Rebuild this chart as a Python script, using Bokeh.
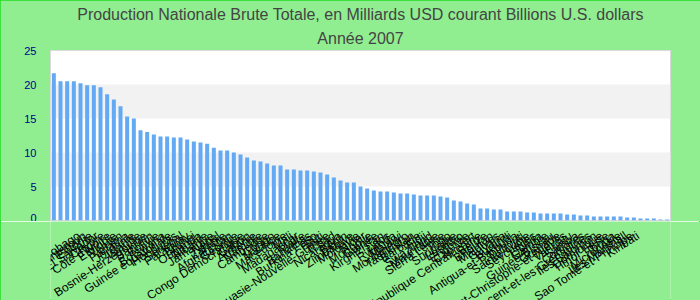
from bokeh.plotting import figure
from bokeh.layouts import column
from bokeh.models import Title, SingleIntervalTicker, FactorRange, Range1d
from bokeh.core.properties import value
from bokeh.embed import file_html
from bokeh.resources import INLINE

countries = [
    "Trinité-et-Tobago", "Cameroun", "Estonie", "El Salvador", "Chypre",
    "Côte d'Ivoire", "Éthiopie", "Yémen", "Panama", "Jordanie",
    "Islande", "Bosnie-Herzégovine", "Bahreïn", "Bolivie", "Botswana",
    "Guinée équatoriale", "Honduras", "Sénégal", "Paraguay", "Brunei",
    "Ouganda", "Albanie", "Jamaïque", "Népal", "Zambie",
    "Afghanistan", "Géorgie", "Congo Démocratique", "Gabon", "Arménie",
    "Namibie", "Cambodge", "Congo", "Maurice", "Macédoine",
    "Mali", "Madagascar", "Malte", "Bahamas", "Burkina Faso",
    "Haïti", "Papouasie-Nouvelle-Guinée", "Tchad", "Nicaragua", "Bénin",
    "Zimbabwe", "Moldavie", "Niger", "Mongolie", "Guinée",
    "Kirghizistan", "Laos", "Rwanda", "Malawi", "Monténégro",
    "Tadjikistan", "Barbade", "Fidji", "Swaziland", "Mauritanie",
    "Sierra Leone", "Togo", "Suriname", "Lesotho", "Érythrée",
    "Cap-Vert", "République Centrafricaine", "Belize", "Bhoutan", "Maldives",
    "Guyana", "Burundi", "Antigua-et-Barbuda", "Djibouti", "Sainte-Lucie",
    "Seychelles", "Libéria", "Gambie", "Guinée-Bissau", "Grenade",
    "Saint-Christophe-et-Niévès", "Vanuatu", "Samoa", "Comores", "Saint-Vincent-et-les Grenadines",
    "Îles Salomon", "Dominique", "Timor-Leste", "Tonga", "Micronésie",
    "Îles Marshall", "Sao Tomé-et-Principe", "Kiribati",
]

gni_2007 = [
    21.67, 20.49, 20.49, 20.49, 20.2,
    19.9, 19.9, 19.6, 18.58, 17.8,
    16.8, 15.3, 15.0, 13.28, 13.0,
    12.65, 12.35, 12.35, 12.2, 12.2,
    11.9, 11.6, 11.47, 11.3, 10.7,
    10.3, 10.3, 10.0, 9.7, 9.26,
    8.82, 8.68, 8.38, 8.09, 8.09,
    7.5, 7.5, 7.35, 7.35, 7.2,
    7.06, 6.76, 6.32, 5.88, 5.59,
    5.59, 5.0, 4.7, 4.41, 4.26,
    4.26, 4.12, 3.97, 3.97, 3.82,
    3.68, 3.68, 3.68, 3.53, 3.38,
    2.94, 2.79, 2.5, 2.35, 1.76,
    1.76, 1.62, 1.62, 1.32, 1.32,
    1.32, 1.18, 1.18, 1.03, 1.03,
    1.03, 1.03, 0.88, 0.88, 0.74,
    0.74, 0.59, 0.59, 0.59, 0.59,
    0.59, 0.44, 0.44, 0.29, 0.29,
    0.29, 0.15, 0.15,
]

title_line1 = "Production Nationale Brute Totale, en Milliards USD courant Billions U.S. dollars"
title_line2 = "Année 2007"

BG = "#90ee90"
FONT = "Liberation Sans"

# ---- main chart (bars) ----
p = figure(
    width=700, height=221, x_range=FactorRange(factors=countries), y_range=(0, 25),
    output_backend="svg", toolbar_location=None, title=None,
    min_border_left=50, min_border_right=30, min_border_top=50, min_border_bottom=1,
)
p.background_fill_color = "white"
p.border_fill_color = BG
p.outline_line_color = "#d9d9d9"
p.outline_line_width = 1

p.vbar(x=countries, top=gni_2007, width=0.6, color="#63a9f4", line_color=None)

p.add_layout(Title(text=title_line2, align="center", text_font=FONT, offset=-10,
                   text_font_size="16px", text_color="#444444", text_font_style="normal",
                   standoff=7), "above")
p.add_layout(Title(text=title_line1, align="center", text_font=FONT, offset=-10,
                   text_font_size="16px", text_color="#444444", text_font_style="normal",
                   standoff=3), "above")

p.yaxis.ticker = SingleIntervalTicker(interval=5)
p.yaxis.axis_line_color = None
p.yaxis.major_tick_line_color = None
p.yaxis.major_tick_out = 0
p.yaxis.major_tick_in = 0
p.yaxis.minor_tick_line_color = None
p.yaxis.major_label_text_color = "#000088"
p.yaxis.major_label_text_font = FONT
p.yaxis.major_label_text_font_size = "11px"
p.yaxis.major_label_standoff = 10
p.xaxis.visible = False

p.xgrid.grid_line_color = None
p.ygrid.grid_line_color = None
p.ygrid.band_fill_color = "#f2f2f2"
p.ygrid.band_fill_alpha = 1.0

# ---- category labels strip (same category spacing, wider frame) ----
q = figure(
    width=700, height=79,
    x_range=FactorRange(factors=countries, range_padding=4.5, range_padding_units="absolute"),
    y_range=Range1d(-66, 13),
    output_backend="svg", toolbar_location=None, title=None,
    min_border_left=20, min_border_right=0, min_border_top=0, min_border_bottom=0,
)
q.axis.visible = False
q.grid.visible = False
q.outline_line_color = None
q.background_fill_color = BG
q.border_fill_color = BG

q.text(x=countries, y=[0] * len(countries), text=countries, angle=0.58,
       text_align="right", text_baseline="middle", x_offset=-2,
       text_font=value(FONT), text_font_size="12px", text_color="black")

layout = column(p, q, spacing=0,
                styles={"outline": "1px solid #22dd22", "outline-offset": "-1px"})

open("out.html", "w").write(file_html(layout, INLINE))
